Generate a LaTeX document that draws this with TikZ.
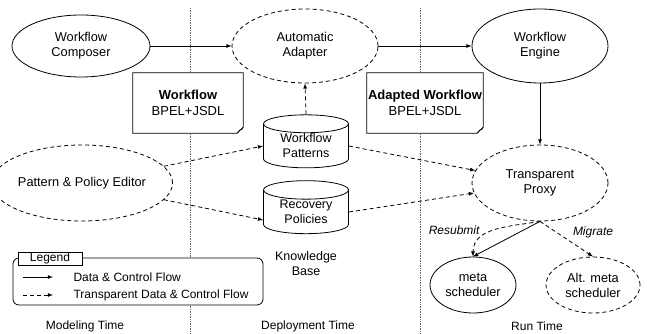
\documentclass[tikz,border=0pt]{standalone}
\usepackage{fontspec}
\setmainfont{Liberation Sans}
\usetikzlibrary{shapes}
\tikzstyle{composant}=[ellipse,draw,inner sep=0pt,align=center,
line width=0.8pt,fill=white,font=\fontsize{12.8}{15}\selectfont]
\tikzstyle{composantT}=[composant,dash pattern=on 4pt off 3pt]
\tikzstyle{document}=[rectangle,fill=white,inner sep=0pt,align=center,
minimum width=110pt,minimum height=60pt,font=\fontsize{13}{16}\selectfont]
\tikzstyle{base}=[cylinder,shape border rotate=90,draw,aspect=0.35,
line width=0.8pt,fill=white,inner sep=0pt,align=center,
minimum width=85pt,minimum height=53pt,font=\fontsize{12.5}{15}\selectfont]
\tikzstyle{fleche}=[->,>=latex,line width=0.8pt]
\tikzstyle{flecheT}=[fleche,dash pattern=on 4pt off 3pt]
\tikzstyle{separation}=[densely dotted,gray!80!black,line width=0.7pt]
\tikzstyle{etiquette}=[font=\fontsize{12}{15}\selectfont\itshape]

\begin{document}
\begin{tikzpicture}[x=1pt,y=-1pt,font=\fontsize{12}{15}\selectfont]
\useasboundingbox (0,0) rectangle (647,334);
% phases
\draw[separation] (190,8) -- (190,334);
\draw[separation] (420,8) -- (420,334);

\node[composant,minimum width=138pt,minimum height=62pt] (WC) at (81,46) {Workflow\\Composer};
\node[composantT,minimum width=146pt,minimum height=74pt] (AA) at (305,46) {Automatic\\Adapter};
\node[composant,minimum width=136pt,minimum height=74pt] (WE) at (540,46) {Workflow\\Engine};
\node[composantT,minimum width=136pt,minimum height=76pt] (PE) at (82,183) {Pattern \& Policy Editor};
\node[composantT,minimum width=136pt,minimum height=76pt] (TP) at (540,183) {Transparent\\Proxy};
\node[composant,minimum width=86pt,minimum height=56pt] (MS) at (473,285) {meta\\scheduler};
\node[composantT,minimum width=94pt,minimum height=56pt] (AMS) at (593,285) {Alt. meta\\scheduler};

\node[base] (WP) at (306,146) {Workflow\\Patterns};
\node[base] (RP) at (306,212) {Recovery\\Policies};
\node[align=center,font=\fontsize{12.5}{15}\selectfont] (KB) at (306,264) {Knowledge\\Base};

% documents
\node[document] (WD) at (188,103) {\textbf{Workflow}\\BPEL+JSDL};
\node[document,minimum width=116pt] (AD) at (425,103) {\textbf{Adapted Workflow}\\BPEL+JSDL};
\foreach \d in {WD,AD}{
\draw[line width=0.8pt] (\d.north west) -- (\d.north east) -- ([yshift=6pt]\d.south east)
 -- ([xshift=-6pt]\d.south east) -- (\d.south west) -- cycle;
\draw[line width=0.6pt] ([xshift=-6pt]\d.south east) .. controls ([xshift=-3pt,yshift=4pt]\d.south east) .. ([xshift=-1pt,yshift=4pt]\d.south east) -- ([yshift=6pt]\d.south east);
}

\draw[fleche] (WC.east) -- (AA.west);
\draw[fleche] (AA.east) -- (WE.west);
\draw[flecheT] (WP.north) -- (AA.south);
\draw[fleche] (WE.south) -- (TP.north);
\draw[flecheT] (PE) -- (WP.west);
\draw[flecheT] (PE) -- ([yshift=-8pt]RP.west);
\draw[flecheT] (WP.east) -- (TP);
\draw[flecheT] (RP.east) -- (TP);
\draw[fleche] (TP.south) -- (MS.north);
\draw[flecheT] (TP.south) to[out=190,in=90] (MS.north);
\draw[flecheT] (TP.south) -- (AMS.north);
\node[etiquette,anchor=east] (RS) at (483,230) {Resubmit};
\node[etiquette] (MG) at (593,232) {Migrate};

% legende
\node[draw,rounded corners=6pt,fill=white,line width=0.8pt,minimum width=250pt,minimum height=47pt] (LG) at (138,281.5) {};
\node[draw,fill=white,line width=0.8pt,minimum width=64pt,minimum height=13pt,inner sep=0pt] (LT) at (50,258.5) {Legend};
\coordinate (L1a) at (23,277);
\coordinate (L1b) at (53,277);
\coordinate (L2a) at (23,295);
\coordinate (L2b) at (53,295);
\draw[fleche] (L1a) -- (L1b);
\draw[flecheT] (L2a) -- (L2b);
\node[anchor=west] (T1) at (70,277) {Data \& Control Flow};
\node[anchor=west] (T2) at (70,295) {Transparent Data \& Control Flow};

\node (MT) at (85,326) {Modeling Time};
\node (DT) at (308,326) {Deployment Time};
\node (RT) at (537,326) {Run Time};
\end{tikzpicture}
\end{document}
